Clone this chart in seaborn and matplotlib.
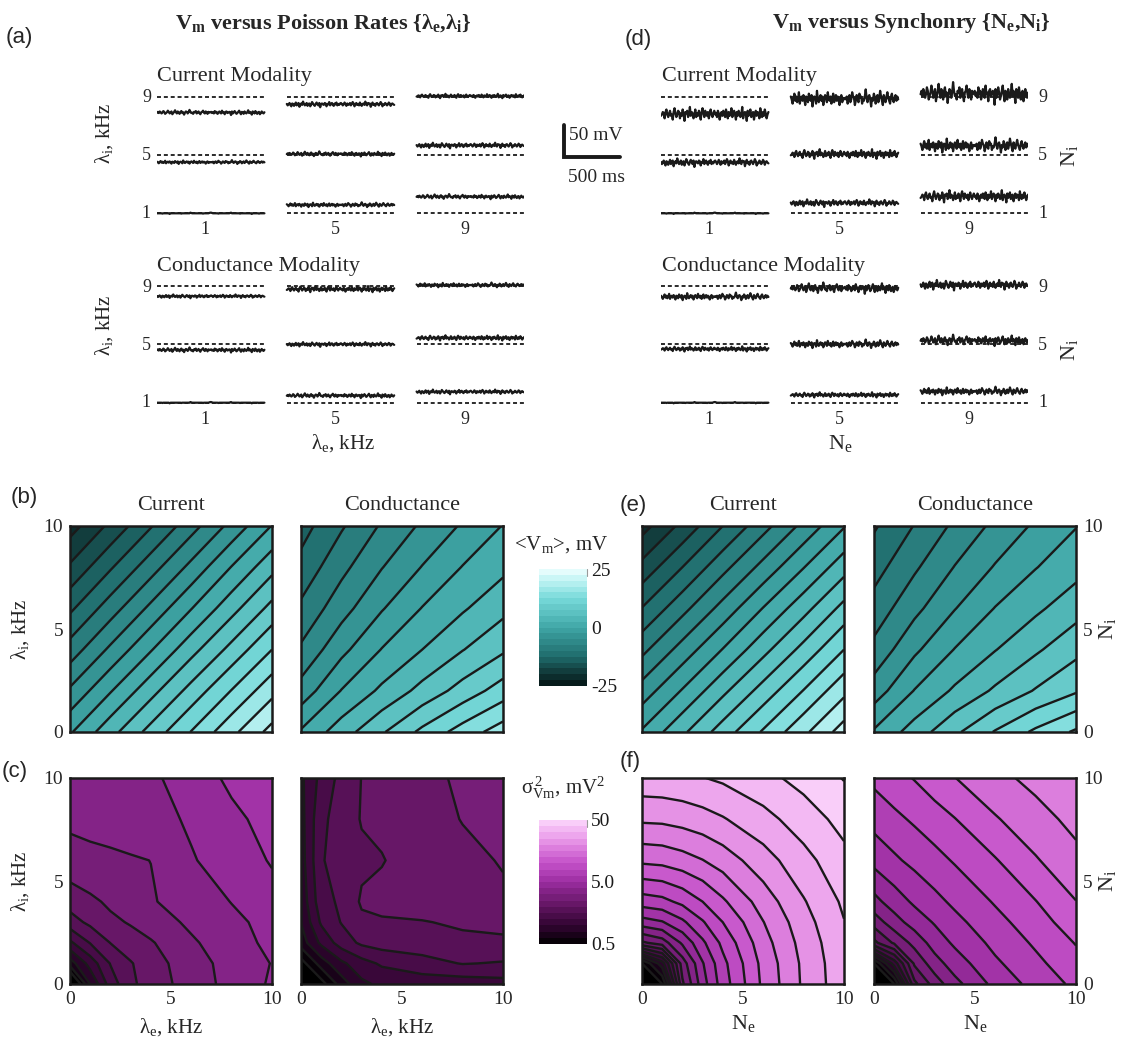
import numpy as np
import pandas as pd
import matplotlib
matplotlib.use("Agg")
import matplotlib.pyplot as plt
import seaborn as sns
from matplotlib.colors import LinearSegmentedColormap, ListedColormap, BoundaryNorm, Normalize
from matplotlib.cm import ScalarMappable

# ============================ DATA ============================
grid_mean = [0, 2, 4, 6, 8, 10]
grid_var = [0, 1, 2, 3, 4, 6, 8, 10]

# <Vm> (mV); rows = lambda_i / N_i ascending, cols = lambda_e / N_e ascending
vm_current_rates = [
    [-0.3, 4.1, 8.4, 12.6, 16.8, 20.9],
    [-4.6, -0.2, 4.1, 8.4, 12.6, 16.7],
    [-8.9, -4.5, -0.2, 4.1, 8.3, 12.5],
    [-13.0, -8.7, -4.4, -0.1, 4.1, 8.3],
    [-17.1, -12.8, -8.6, -4.3, 0.1, 4.2],
    [-21.1, -16.9, -12.7, -8.5, -4.2, 0.1],
]
vm_conductance_rates = [
    [0.3, 3.8, 7.2, 10.6, 13.6, 16.3],
    [-4.0, 0.1, 3.0, 5.8, 8.5, 11.2],
    [-7.1, -3.2, 0.1, 2.5, 4.9, 7.1],
    [-9.5, -6.0, -2.7, 0.1, 2.2, 4.3],
    [-11.7, -8.2, -5.1, -2.4, 0.1, 1.9],
    [-13.5, -10.3, -7.2, -4.6, -2.2, 0.1],
]
vm_current_sync = [
    [0.3, 4.5, 8.7, 12.8, 16.9, 21.2],
    [-3.9, 0.2, 4.4, 8.5, 12.6, 16.8],
    [-8.2, -4.0, 0.1, 4.2, 8.3, 12.5],
    [-12.4, -8.3, -4.1, 0.1, 4.1, 8.3],
    [-16.7, -12.5, -8.3, -4.2, -0.1, 4.0],
    [-21.0, -16.8, -12.5, -8.4, -4.3, -0.2],
]
vm_conductance_sync = [
    [0.3, 3.6, 7.0, 10.2, 13.0, 15.4],
    [-3.8, 0.1, 2.9, 5.4, 7.7, 9.7],
    [-6.8, -3.0, 0.1, 2.4, 4.6, 6.8],
    [-9.0, -5.7, -2.6, 0.1, 2.0, 4.0],
    [-11.0, -7.9, -4.9, -2.3, -0.1, 1.6],
    [-12.8, -9.9, -7.0, -4.4, -2.1, -0.1],
]

# sigma^2_Vm (mV^2)
var_current_rates = [
    [0.3, 0.8, 1.4, 1.9, 2.2, 2.8, 3.4, 4.1],
    [0.7, 1.1, 1.6, 1.95, 2.3, 2.8, 3.5, 4.0],
    [1.2, 1.6, 2.0, 2.3, 2.45, 3.05, 3.6, 4.2],
    [1.8, 2.1, 2.4, 2.55, 2.8, 3.3, 3.75, 4.3],
    [2.2, 2.4, 2.6, 2.75, 3.1, 3.45, 4.0, 4.6],
    [2.9, 3.0, 3.05, 3.1, 3.16, 3.9, 4.4, 5.1],
    [3.3, 3.35, 3.4, 3.5, 3.65, 4.1, 4.7, 5.5],
    [3.5, 3.55, 3.6, 3.7, 3.85, 4.3, 5.3, 6.0],
]
var_conductance_rates = [
    [0.2, 0.45, 0.7, 0.95, 1.05, 1.1, 1.1, 1.15],
    [0.45, 0.7, 0.95, 1.15, 1.3, 1.45, 1.6, 1.55],
    [0.7, 1.05, 1.4, 1.65, 1.75, 1.8, 1.9, 1.92],
    [0.8, 1.3, 1.6, 1.9, 1.95, 1.97, 2.05, 2.1],
    [0.85, 1.45, 1.65, 2.05, 2.1, 2.2, 2.3, 2.4],
    [0.9, 1.55, 1.75, 1.9, 1.97, 2.2, 2.35, 2.55],
    [0.92, 1.5, 1.75, 2.02, 2.08, 2.25, 2.53, 2.65],
    [0.95, 1.35, 1.7, 2.0, 2.15, 2.35, 2.6, 2.75],
]
var_current_sync = [
    [0.2, 0.5, 2.4, 4.52, 7.06, 13.2, 20.7, 29.2],
    [0.5, 0.9, 2.8, 4.91, 7.41, 13.5, 20.9, 29.5],
    [2.4, 2.8, 4.13, 6.01, 8.40, 14.4, 21.7, 30.1],
    [4.52, 4.91, 6.01, 7.74, 9.98, 15.7, 22.9, 31.3],
    [7.06, 7.41, 8.40, 9.98, 12.1, 17.6, 24.6, 32.8],
    [13.2, 13.5, 14.4, 15.7, 17.6, 22.7, 29.2, 37.1],
    [20.7, 20.9, 21.7, 22.9, 24.6, 29.2, 35.4, 42.9],
    [29.2, 29.5, 30.1, 31.3, 32.8, 37.1, 42.9, 50.6],
]
var_conductance_sync = [
    [0.2, 0.5, 1.87, 2.77, 3.69, 5.36, 6.84, 8.35],
    [0.5, 1.1, 2.6, 3.6, 4.45, 6.05, 7.5, 9.2],
    [1.87, 2.6, 3.4, 4.4, 5.2, 6.7, 8.2, 10.1],
    [2.77, 3.6, 4.4, 5.1, 5.9, 7.35, 9.0, 11.3],
    [3.69, 4.45, 5.2, 5.9, 6.6, 8.1, 9.9, 12.5],
    [5.36, 6.05, 6.7, 7.35, 8.1, 9.8, 12.3, 14.8],
    [6.84, 7.5, 8.2, 9.0, 9.9, 12.3, 14.5, 16.9],
    [8.35, 9.2, 10.1, 11.3, 12.5, 14.8, 16.9, 19.3],
]

vm_range = [-25, 25]
var_range = [0.5, 50]
n_bands = 20

# ---- example Vm traces: rows lambda_i / N_i = 9,5,1 ; cols lambda_e / N_e = 1,5,9
cell_values = [1, 5, 9]
rate_cur_offset = [[-25, -12, 1], [-11.5, 1.5, 15], [0, 13, 26]]
rate_cur_amp = [[2.5, 3, 2.5], [2, 2.5, 3], [2, 2.5, 2.5]]
rate_con_offset = [[-16, -5, 1.5], [-9, 0, 10], [0, 11, 17]]
rate_con_amp = [[2, 3.5, 2.5], [2.5, 2.5, 3], [2, 2.5, 2.5]]
sync_cur_offset = [[-28, -4, 4], [-12, 1, 14], [0, 16, 26]]
sync_cur_amp = [[8, 9, 11], [4.5, 5.5, 8], [2, 4, 7]]
sync_con_offset = [[-17, -3.7, 1.6], [-7.4, 0, 5.8], [0, 12, 17.4]]
sync_con_amp = [[4, 5.5, 5.5], [3, 4.5, 5.5], [2, 3, 4.5]]

fluct_a = [0, 2, -1, 3, 1, -2, 0, 4, 2, -3, -1, 1, 5, 2, -2, 0, 3, -4, -1, 2, 6, 1, -2, 3, 0, -3, 2, 4, -1, 1,
           -5, 0, 3, 2, -2, 1, 7, 2, -1, 0, -3, 2, 1, 4, -2, 0, 3, -1, -4, 1, 2, 5, 0, -2, 3, 1, -3, 2, 0, 1]
fluct_b = [1, -2, 0, 3, -1, -4, 2, 1, -3, 0, 4, -2, 1, 3, -5, 0, 2, -1, 6, 1, -2, 0, 3, -3, 1, 2, -4, 0, 5, 2,
           -1, -3, 1, 4, 0, -2, 3, -6, 1, 2, 0, -1, 3, 2, -4, 1, 0, 5, -2, 1, 3, -1, -3, 2, 0, 4, -2, 1, -1, 2]
fluct_c = [-1, 0, 2, 1, -3, 2, 4, 0, -2, 1, 3, -1, 0, -4, 2, 5, 1, -2, 0, 3, 2, -3, 1, -1, 4, 0, -5, 2, 1, 3,
           -2, 0, 6, -1, 2, 1, -3, 0, 4, -2, 1, -1, 3, 0, -4, 2, 5, 1, -2, 3, 0, -1, 2, -3, 1, 4, 0, -2, 1, 3]
fluct_d = [2, 0, -3, 1, 4, -1, 2, -2, 0, 5, -3, 1, 2, -1, 3, 0, -4, 2, 1, -2, 4, 1, -1, 3, -5, 0, 2, 1, -3, 6,
           0, -2, 1, 3, -1, 2, -4, 0, 3, 1, -2, 5, 0, -1, 2, -3, 1, 4, -2, 0, 3, -1, 2, 0, -4, 1, 3, -2, 1, 0]
fluct_rest = [0, 0, 0, 0, 0, 0, -1, 0, 0, 0, 0, 0, 0, 0, -2, 0, 0, 0, 0, 0, 0, 0, 0, 0, 0, 0, 0, -1, 0, 0,
              0, 0, 0, 0, 0, 0, 0, 2, 1, 0, 0, 0, 0, 0, 0, 0, 0, 0, 0, 0, 0, -1, 0, 0, 0, 0, 0, 0, 1, 2]

# ============================ STYLE / LAYOUT ============================
sns.set_theme(style="white")
plt.rcParams["font.family"] = ["Liberation Serif", "DejaVu Serif"]
plt.rcParams["mathtext.default"] = "regular"

W, H = 1125, 1047
fig = plt.figure(figsize=(W / 100, H / 100), dpi=100)
fig.patch.set_facecolor("white")


def rect(x0, y0, x1, y1):
    return [x0 / W, 1 - y1 / H, (x1 - x0) / W, (y1 - y0) / H]


def T(x, y, s, **kw):
    kw.setdefault("ha", "center")
    kw.setdefault("va", "center")
    return fig.text(x / W, 1 - y / H, s, **kw)


teal = LinearSegmentedColormap.from_list("teal", [
    (0.0, "#051414"), (0.1, "#0f3434"), (0.25, "#1f6b6b"), (0.5, "#3fa6a6"),
    (0.75, "#78dada"), (0.9, "#bdf3f3"), (1.0, "#f0ffff")])
purple = LinearSegmentedColormap.from_list("purp", [
    (0.0, "#000000"), (0.15, "#320532"), (0.3, "#5f145f"), (0.5, "#9b2da0"),
    (0.65, "#c350c8"), (0.8, "#e187e1"), (0.9, "#f0aff0"), (1.0, "#fcd7fc")])

vm_levels = np.linspace(vm_range[0], vm_range[1], n_bands + 1)
var_levels = np.linspace(np.log10(var_range[0]), np.log10(var_range[1]), n_bands + 1)

FS_TICK = 14
FS_LAB = 15


def contour_panel(box, grid, Z, levels, cmap):
    ax = fig.add_axes(rect(*box))
    Z = np.asarray(Z, dtype=float)
    norm = Normalize(levels[0], levels[-1])
    ax.contourf(grid, grid, Z, levels=levels, cmap=cmap, norm=norm, extend="both")
    ax.contour(grid, grid, Z, levels=levels, colors="k", linewidths=1.7,
               linestyles="solid", negative_linestyles="solid")
    ax.set_xlim(0, 10)
    ax.set_ylim(0, 10)
    for sp in ax.spines.values():
        sp.set_visible(True)
        sp.set_color("k")
        sp.set_linewidth(1.8)
    ax.set_xticks([0, 5, 10])
    ax.set_yticks([0, 5, 10])
    ax.tick_params(length=0, labelsize=FS_TICK, pad=5)
    ax.set_xticklabels([])
    ax.set_yticklabels([])
    return ax


rowb = (526, 732)
rowc = (778, 984)
cols = {"bc": (70, 272), "bg": (301, 503), "ec": (642, 844), "eg": (874, 1076)}

def box(col, row):
    return (cols[col][0], row[0], cols[col][1], row[1])

axs = {}
axs["b1"] = contour_panel(box("bc", rowb), grid_mean, vm_current_rates, vm_levels, teal)
axs["b2"] = contour_panel(box("bg", rowb), grid_mean, vm_conductance_rates, vm_levels, teal)
axs["e1"] = contour_panel(box("ec", rowb), grid_mean, vm_current_sync, vm_levels, teal)
axs["e2"] = contour_panel(box("eg", rowb), grid_mean, vm_conductance_sync, vm_levels, teal)
axs["c1"] = contour_panel(box("bc", rowc), grid_var, np.log10(var_current_rates), var_levels, purple)
axs["c2"] = contour_panel(box("bg", rowc), grid_var, np.log10(var_conductance_rates), var_levels, purple)
axs["f1"] = contour_panel(box("ec", rowc), grid_var, np.log10(var_current_sync), var_levels, purple)
axs["f2"] = contour_panel(box("eg", rowc), grid_var, np.log10(var_conductance_sync), var_levels, purple)

for k in ["b1", "c1"]:
    axs[k].set_yticklabels(["0", "5", "10"])
for k in ["c1", "c2", "f1", "f2"]:
    axs[k].set_xticklabels(["0", "5", "10"])
for k in ["e2", "f2"]:
    axs[k].yaxis.tick_right()
    axs[k].set_yticklabels(["0", "5", "10"])
    axs[k].tick_params(length=0, labelsize=FS_TICK, pad=5)

# colorbars
def colorbar(box_px, levels, cmap, ticks, labels):
    cax = fig.add_axes(rect(*box_px))
    mids = (levels[:-1] + levels[1:]) / 2
    cols_ = cmap(Normalize(levels[0], levels[-1])(mids))
    sm = ScalarMappable(norm=BoundaryNorm(levels, len(mids)), cmap=ListedColormap(cols_))
    cb = fig.colorbar(sm, cax=cax, ticks=ticks)
    cb.set_ticklabels(labels)
    cb.outline.set_visible(False)
    cax.minorticks_off()
    cax.tick_params(which="both", length=0, labelsize=FS_TICK, pad=3, colors="k")
    cax.plot([1, 1], [levels[-1] - (levels[-1] - levels[0]) * 0.06, levels[-1]],
             transform=cax.get_yaxis_transform(), color="#999999", lw=0.8, clip_on=False)
    return cb

colorbar((539, 569, 587, 686), vm_levels, teal, [-25, 0, 25], ["-25", "0", "25"])
colorbar((539, 820, 587, 944), var_levels, purple,
         list(np.log10([0.5, 5.0, 50])), ["0.5", "5.0", "50"])

T(561, 545, r"<$\mathregular{V_m}$>, mV", fontsize=FS_LAB)
T(563, 788, r"$\mathregular{\sigma^{\,2}_{Vm}}$, mV$\mathregular{^2}$", fontsize=FS_LAB)

# contour titles / labels
for x in [171, 743]:
    T(x, 505, "Current", fontsize=16)
for x in [402, 975]:
    T(x, 505, "Conductance", fontsize=16)
for y in [629, 881]:
    T(20, y, r"$\mathregular{\lambda_i}$, kHz", fontsize=FS_LAB, rotation=90)
    T(1108, y, r"$\mathregular{N_i}$", fontsize=FS_LAB + 1, rotation=90)
for x in [171, 402]:
    T(x, 1027, r"$\mathregular{\lambda_e}$, kHz", fontsize=FS_LAB)
for x in [743, 975]:
    T(x, 1024, r"$\mathregular{N_e}$", fontsize=FS_LAB + 1)

sans = dict(family=["Liberation Sans", "DejaVu Sans"], fontsize=16)
T(19, 38, "(a)", **sans)
T(638, 39, "(d)", **sans)
T(24, 497, "(b)", **sans)
T(2, 771, "(c)", ha="left", **sans)
T(633, 505, "(e)", **sans)
T(630, 762, "(f)", **sans)

# ============================ TRACE BLOCKS ============================
PX_PER_MV = 0.633      # 50 mV scale bar ~ 31.7 px
ROW_MV = 92
COL_MS = 1160
TRACE_MS = 960
X_SPAN_MS = 2 * COL_MS + TRACE_MS
patterns = [fluct_a, fluct_b, fluct_c, fluct_d]


def trace_block(x0, x1, y_top, y_bot, base_px, offsets, amps, shift):
    ax = fig.add_axes(rect(x0, y_top, x1, y_bot))
    ylo = -(y_bot - base_px) / PX_PER_MV
    yhi = (base_px - y_top) / PX_PER_MV
    frames = []
    for r in range(3):
        base = (2 - r) * ROW_MV
        for c in range(3):
            t0 = c * COL_MS
            ax.hlines(base, t0, t0 + TRACE_MS, colors="k", linestyles=(0, (2.2, 1.6)), lw=1.3)
            k = r * 3 + c + shift
            if r == 2 and c == 0:
                p = np.array(fluct_rest + fluct_rest[::-1], float)
            else:
                p = np.array(patterns[k % 4] + patterns[(k + 1) % 4][::-1], float)
            t = t0 + np.linspace(0, TRACE_MS, len(p))
            v = base + offsets[r][c] + amps[r][c] * p / 4.0
            frames.append(pd.DataFrame({"t": t, "v": v, "cell": f"{r}{c}"}))
    df = pd.concat(frames, ignore_index=True)
    sns.lineplot(data=df, x="t", y="v", units="cell", estimator=None, color="k",
                 lw=1.6, ax=ax, legend=False, sort=False)
    ax.set_xlim(0, X_SPAN_MS)
    ax.set_ylim(ylo, yhi)
    ax.axis("off")
    return ax

A_X = (157, 524)
D_X = (661, 1028)
top_rows = (97.3, 155.5, 213.3)
bot_rows = (287.7, 345.5, 402.7)

trace_block(*A_X, 80, 235, top_rows[2], rate_cur_offset, rate_cur_amp, 0)
trace_block(*A_X, 270, 425, bot_rows[2], rate_con_offset, rate_con_amp, 1)
trace_block(*D_X, 80, 235, top_rows[2], sync_cur_offset, sync_cur_amp, 2)
trace_block(*D_X, 270, 425, bot_rows[2], sync_con_offset, sync_con_amp, 3)

col_px = 130
for xs, side in [(A_X, "left"), (D_X, "right")]:
    for rows, ylab in [(top_rows, 230), (bot_rows, 420)]:
        for i, yv in enumerate(rows):
            lab = str(cell_values[2 - i])
            if side == "left":
                T(151, yv, lab, fontsize=13, ha="right")
            else:
                T(1038, yv, lab, fontsize=13, ha="left")
        for c in range(3):
            T(xs[0] + c * col_px + 48, ylab, str(cell_values[c]), fontsize=13)

T(157, 77, "Current Modality", fontsize=16, ha="left")
T(662, 77, "Current Modality", fontsize=16, ha="left")
T(157, 267, "Conductance Modality", fontsize=16, ha="left")
T(662, 267, "Conductance Modality", fontsize=16, ha="left")
T(104, 133, r"$\mathregular{\lambda_i}$, kHz", fontsize=FS_LAB, rotation=90)
T(104, 325, r"$\mathregular{\lambda_i}$, kHz", fontsize=FS_LAB, rotation=90)
T(1070, 156, r"$\mathregular{N_i}$", fontsize=FS_LAB + 1, rotation=90)
T(1070, 350, r"$\mathregular{N_i}$", fontsize=FS_LAB + 1, rotation=90)
T(343, 443, r"$\mathregular{\lambda_e}$, kHz", fontsize=FS_LAB)
T(840, 443, r"$\mathregular{N_e}$", fontsize=FS_LAB + 1)

T(323, 23, r"$\mathregular{V_m}$ versus Poisson Rates {$\mathregular{\lambda_e}$,$\mathregular{\lambda_i}$}",
  fontsize=16, fontweight="bold")
T(911, 23, r"$\mathregular{V_m}$ versus Synchonry {$\mathregular{N_e}$,$\mathregular{N_i}$}",
  fontsize=16, fontweight="bold")

# scale bar (50 mV, 500 ms)
scale_t = [0, 0, 500]
scale_v = [50, 0, 0]
sax = fig.add_axes(rect(564, 125, 620, 157))
sax.plot(scale_t, scale_v, color="k", lw=2.8, clip_on=False, solid_joinstyle="miter")
sax.set_xlim(0, 500)
sax.set_ylim(0, 50)
sax.axis("off")
T(569, 135, "50 mV", fontsize=14, ha="left")
T(568, 177, "500 ms", fontsize=14, ha="left")

fig.savefig("out.png", dpi=100)
